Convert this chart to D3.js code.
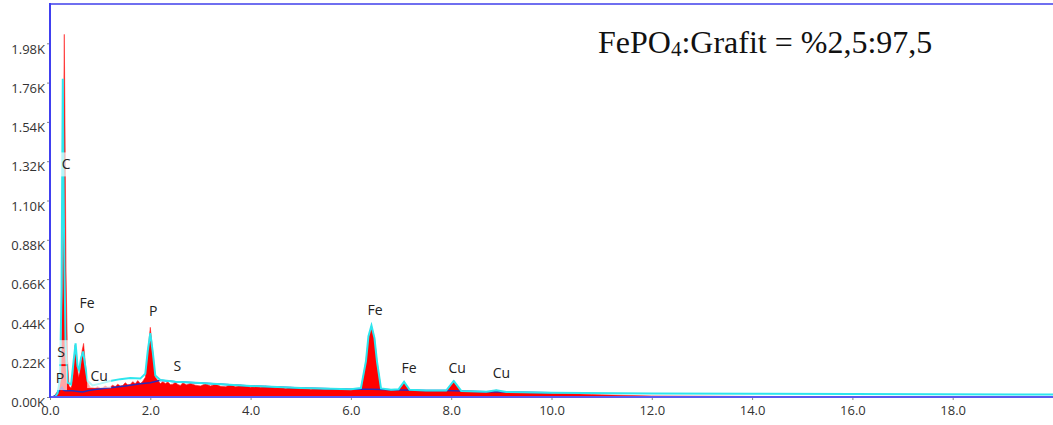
<!DOCTYPE html>
<html>
<head>
<meta charset="utf-8">
<script src="https://cdn.jsdelivr.net/npm/d3@7"></script>
<style>
  body { margin: 0; background: #fff; }
  svg { display: block; }
  .tick text { font-family: "Open Sans", "Noto Sans", sans-serif; font-size: 13px; fill: #333; }
  .elem { font-family: "Open Sans", "Noto Sans", sans-serif; font-size: 14px; fill: #222; }
</style>
</head>
<body>
<div id="chart"></div>
<script>
// measured spectrum (red), [keV, counts]
var spectrum = [
  [0.00, 0], [0.08, 0], [0.12, 20], [0.18, 40], [0.22, 150], [0.25, 700], [0.27, 1500],
  [0.285, 2030], [0.30, 1500], [0.32, 700], [0.35, 200], [0.38, 60], [0.42, 50],
  [0.46, 120], [0.50, 290], [0.53, 200], [0.57, 110], [0.60, 150], [0.64, 260],
  [0.67, 300], [0.70, 200], [0.74, 90], [0.80, 55], [0.90, 50], [1.00, 50],
  [1.20, 56], [1.40, 62], [1.60, 70], [1.80, 76], [1.90, 110], [1.95, 250],
  [2.00, 390], [2.05, 250], [2.10, 110], [2.20, 75], [2.40, 70], [2.60, 65],
  [3.00, 62], [3.50, 58], [4.00, 55], [4.50, 50], [5.00, 45], [5.50, 42], [6.00, 40],
  [6.20, 45], [6.30, 200], [6.35, 330], [6.41, 397], [6.47, 330], [6.52, 200],
  [6.60, 45], [6.80, 38], [6.95, 40], [7.06, 80], [7.17, 38], [7.50, 35], [7.90, 33],
  [8.05, 85], [8.20, 32], [8.60, 28], [8.90, 38], [9.10, 25], [10.0, 20], [11.0, 12],
  [12.0, 6], [14.0, 3], [20.0, 0]
];

// noisy channels between the points above, [keV, counts]
var noise = [
  [0.95, 58], [1.05, 52], [1.10, 62], [1.15, 55], [1.25, 66], [1.30, 58], [1.35, 72],
  [1.45, 64], [1.50, 80], [1.55, 68], [1.65, 86], [1.70, 74], [1.75, 92], [1.84, 84],
  [2.25, 86], [2.30, 76], [2.35, 84], [2.45, 72], [2.50, 82], [2.55, 70], [2.65, 80],
  [2.72, 68], [2.80, 76], [2.90, 66], [3.10, 74], [3.20, 62], [3.30, 72], [3.40, 60],
  [3.60, 68], [3.70, 58], [3.80, 66], [4.10, 62], [4.20, 54], [4.30, 60], [4.60, 56],
  [4.70, 48], [4.80, 54], [5.10, 50], [5.20, 44], [5.30, 48], [5.70, 46], [5.80, 40],
  [5.90, 44], [6.70, 42], [6.85, 37], [7.30, 38], [7.60, 34], [8.40, 32], [8.70, 28],
  [9.40, 25], [9.80, 22], [10.3, 19], [10.8, 14]
];

// fitted spectrum (cyan)
var fit = [
  [0.10, 0], [0.15, 20], [0.20, 100], [0.23, 600], [0.255, 1782], [0.28, 900],
  [0.31, 300], [0.35, 80], [0.42, 70], [0.47, 200], [0.51, 300], [0.55, 170],
  [0.58, 150], [0.62, 220], [0.66, 255], [0.70, 180], [0.75, 90], [0.85, 65],
  [1.00, 75], [1.20, 90], [1.40, 100], [1.60, 106], [1.80, 103], [1.90, 130],
  [1.95, 260], [2.00, 357], [2.05, 250], [2.10, 120], [2.20, 95], [2.50, 85],
  [3.00, 78], [4.00, 62], [5.00, 50], [6.00, 44], [6.20, 50], [6.30, 200],
  [6.35, 340], [6.41, 400], [6.47, 330], [6.52, 200], [6.60, 48], [6.80, 40],
  [6.95, 43], [7.06, 85], [7.17, 40], [7.50, 36], [7.90, 36], [8.05, 90], [8.20, 34],
  [8.70, 30], [8.90, 38], [9.10, 28], [10.0, 24], [12.0, 20], [14.0, 18],
  [16.0, 17], [20.0, 14]
];

// background (dark blue), hidden under the fit away from peaks
var background = [
  [0.05, 0], [0.12, 10], [0.20, 40], [0.24, 55], [0.26, 40], [0.30, 35], [0.45, 35],
  [0.60, 30], [0.65, 28], [0.75, 35], [0.90, 42], [1.20, 52], [1.50, 62], [1.80, 74],
  [2.00, 80], [2.20, 94], [2.50, 85], [3.00, 78], [4.00, 62], [5.00, 50], [6.00, 44],
  [6.41, 43], [6.80, 40], [7.00, 39], [7.50, 36], [7.90, 36], [8.20, 34], [8.70, 30],
  [9.10, 28], [10.0, 24]
];

// element labels: name, keV, counts
var labelNames = ["C", "Fe", "O", "S", "P", "Cu", "P", "S", "Fe", "Fe", "Cu", "Cu"];
var labelE = [0.32, 0.74, 0.58, 0.22, 0.20, 0.98, 2.06, 2.54, 6.48, 7.16, 8.12, 9.00];
var labelCounts = [1302, 525, 385, 251, 106, 117, 480, 173, 486, 162, 162, 134];

var xTicks = [0, 2, 4, 6, 8, 10, 12, 14, 16, 18];
var yTicks = [0, 220, 440, 660, 880, 1100, 1320, 1540, 1760, 1980];

var width = 1053, height = 425;
var margin = { top: 4, left: 50, right: 0, bottom: 28 };

var svg = d3.select("#chart").append("svg")
    .attr("width", width)
    .attr("height", height);

var x = d3.scaleLinear().domain([0, 20]).range([margin.left, width - margin.right]);
var y = d3.scaleLinear().domain([0, 2200]).range([height - margin.bottom, margin.top]);

var area = d3.area()
    .x(d => x(d[0]))
    .y0(y(0))
    .y1(d => y(d[1]));

var line = d3.line()
    .x(d => x(d[0]))
    .y(d => y(d[1]));

// red measured spectrum, read points and noisy channels together
var measured = spectrum.concat(noise).sort((a, b) => a[0] - b[0]);

svg.append("path")
    .datum(measured)
    .attr("d", area)
    .attr("fill", "#ff0000")
    .attr("stroke", "#ff2020")
    .attr("stroke-width", 0.6);

// background line
svg.append("path")
    .datum(background)
    .attr("d", line)
    .attr("fill", "none")
    .attr("stroke", "#2a2ab8")
    .attr("stroke-width", 1.5);

// fit
svg.append("path")
    .datum(fit)
    .attr("d", line)
    .attr("fill", "none")
    .attr("stroke", "#2ee6ee")
    .attr("stroke-width", 2);

// element labels with translucent boxes
var labels = svg.append("g").selectAll("g")
    .data(labelNames)
    .enter().append("g")
    .attr("transform", (d, i) => "translate(" + x(labelE[i]) + "," + y(labelCounts[i]) + ")");

labels.append("rect")
    .attr("x", (d) => -d.length * 5 - 2)
    .attr("y", -12)
    .attr("width", (d) => d.length * 10 + 4)
    .attr("height", 24)
    .attr("fill", "#fff")
    .attr("opacity", 0.65);

labels.append("text")
    .attr("class", "elem")
    .attr("text-anchor", "middle")
    .attr("dy", "0.35em")
    .text(d => d);

// axes
var xAxis = svg.append("g")
    .attr("transform", "translate(0," + y(0) + ")")
    .call(d3.axisBottom(x).tickValues(xTicks).tickSize(3).tickPadding(6)
        .tickFormat(d3.format(".1f")));

var yAxis = svg.append("g")
    .attr("transform", "translate(" + x(0) + ",0)")
    .call(d3.axisLeft(y).tickValues(yTicks).tickSize(3).tickPadding(2)
        .tickFormat(d => (d / 1000).toFixed(2) + "K"));

xAxis.select(".domain").remove();
yAxis.select(".domain").remove();
xAxis.selectAll(".tick line").attr("stroke", "#888");
yAxis.selectAll(".tick line").attr("stroke", "#888");
yAxis.selectAll(".tick text").attr("dy", "0.75em");

// frame lines
svg.append("line")
    .attr("x1", x(0)).attr("x2", width)
    .attr("y1", y(0)).attr("y2", y(0))
    .attr("stroke", "#5a5af0").attr("stroke-width", 2);
svg.append("line")
    .attr("x1", x(0)).attr("x2", width)
    .attr("y1", y(2200)).attr("y2", y(2200))
    .attr("stroke", "#6f6ff0").attr("stroke-width", 2);
svg.append("line")
    .attr("x1", x(0)).attr("x2", x(0))
    .attr("y1", y(2200) - 1).attr("y2", y(0) + 1)
    .attr("stroke", "#4040f0").attr("stroke-width", 2);

// title
var title = svg.append("text")
    .attr("x", 598)
    .attr("y", 53)
    .attr("font-family", "'Liberation Serif', 'Times New Roman', serif")
    .attr("font-size", 32)
    .attr("fill", "#111");
title.append("tspan").text("FePO");
title.append("tspan").attr("font-size", 21).attr("dy", 3).text("4");
title.append("tspan").attr("dy", -3).text(":Grafit = %2,5:97,5");
</script>
</body>
</html>
